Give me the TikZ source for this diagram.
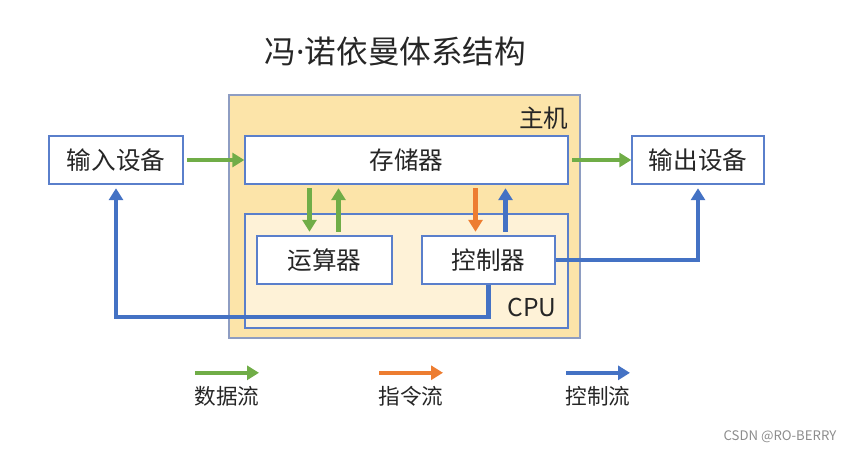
\documentclass[tikz,border=0pt]{standalone}
\usepackage{fontspec}
\setmainfont{Noto Sans CJK SC}
\newfontfamily\dotfont{Noto Sans}
\usepackage{xcolor}
\usepackage{tikz}
\usetikzlibrary{arrows.meta}
\usetikzlibrary{calc}

\definecolor{datagreen}{HTML}{70AD47}
\definecolor{instrorange}{HTML}{ED7D31}
\definecolor{ctrlblue}{HTML}{4472C4}
\definecolor{boxblue}{HTML}{5A7FCB}
\definecolor{hostfill}{HTML}{FCE4A9}
\definecolor{hostline}{HTML}{8E9DC2}
\definecolor{cpufill}{HTML}{FEF2D7}
\definecolor{txtgray}{HTML}{262626}

\begin{document}
\begin{tikzpicture}[x=0.02cm,y=-0.02cm,
    font=\fontsize{14pt}{16pt}\selectfont, text=txtgray,
    unit/.style={draw=boxblue,line width=0.8pt,fill=white,inner sep=0pt,minimum height=0.96cm},
    flow/.style={line width=2.3pt,-{Triangle[length=0.24cm,width=0.28cm]}},
    data/.style={flow,draw=datagreen},
    instr/.style={flow,draw=instrorange},
    ctrl/.style={flow,draw=ctrlblue}]
    \useasboundingbox (0,0) rectangle (852,452);

    % title
    \node (title) at (395.5,52) {\fontsize{18pt}{20pt}\selectfont 冯{\dotfont ·}诺依曼体系结构};

    % host and cpu frames
    \node[draw=hostline,line width=0.8pt,fill=hostfill,minimum width=7.02cm,minimum height=4.86cm] (host) at (404.5,216.5) {};
    \node[anchor=north east] (hostlbl) at ($(host.north east)+(-6,6)$) {主机};
    \node[draw=boxblue,line width=0.8pt,fill=cpufill,minimum width=6.46cm,minimum height=2.28cm] (cpu) at (406.5,271) {};
    \node[anchor=south east] (cpulbl) at ($(cpu.south east)+(-6,-6)$) {CPU};

    % units
    \node[unit,minimum width=6.46cm] (mem) at (406.5,160) {存储器};
    \node[unit,minimum width=2.70cm] (alu) at (324.5,260) {运算器};
    \node[unit,minimum width=2.66cm] (ctl) at (488.5,260) {控制器};
    \node[unit,minimum width=2.68cm] (inp) at (116,160) {输入设备};
    \node[unit,minimum width=2.64cm] (out) at (698,160) {输出设备};

    % data paths
    \draw[data,shorten <=2pt] (inp.east) -- (mem.west);
    \draw[data,shorten <=2pt] (mem.east) -- (out.west);
    \draw[data,shorten <=2pt,shorten >=2pt] ($(alu.north |- mem.south)+(-15,0)$) -- ($(alu.north)+(-15,0)$);
    \draw[data,shorten <=2pt,shorten >=2pt] ($(alu.north)+(14,0)$) -- ($(alu.north |- mem.south)+(14,0)$);
    \draw[instr,shorten <=2pt,shorten >=2pt] ($(ctl.north |- mem.south)+(-13,0)$) -- ($(ctl.north)+(-13,0)$);
    \draw[ctrl,shorten <=2pt,shorten >=2pt] ($(ctl.north)+(17,0)$) -- ($(ctl.north |- mem.south)+(17,0)$);

    % control lines
    \coordinate (lowrun) at (0,317);
    \draw[ctrl,shorten >=2pt] (ctl.east) -| (out.south);
    \draw[ctrl,shorten >=2pt] (ctl.south) -- (ctl.south |- lowrun) -| (inp.south);

    % legend
    \node (lgdata) at (227,396) {\fontsize{12.3pt}{14pt}\selectfont 数据流};
    \node (lginstr) at (411,396) {\fontsize{12.3pt}{14pt}\selectfont 指令流};
    \node (lgctrl) at (598,396) {\fontsize{12.3pt}{14pt}\selectfont 控制流};
    \draw[data] ($(lgdata.north)+(-32,-7)$) -- ($(lgdata.north)+(32,-7)$);
    \draw[instr] ($(lginstr.north)+(-32,-7)$) -- ($(lginstr.north)+(32,-7)$);
    \draw[ctrl] ($(lgctrl.north)+(-32,-7)$) -- ($(lgctrl.north)+(32,-7)$);

    % watermark
    \node[text=black!45] (mark) at (780,437) {\fontsize{7.5pt}{9pt}\selectfont CSDN @RO-BERRY};
\end{tikzpicture}
\end{document}
